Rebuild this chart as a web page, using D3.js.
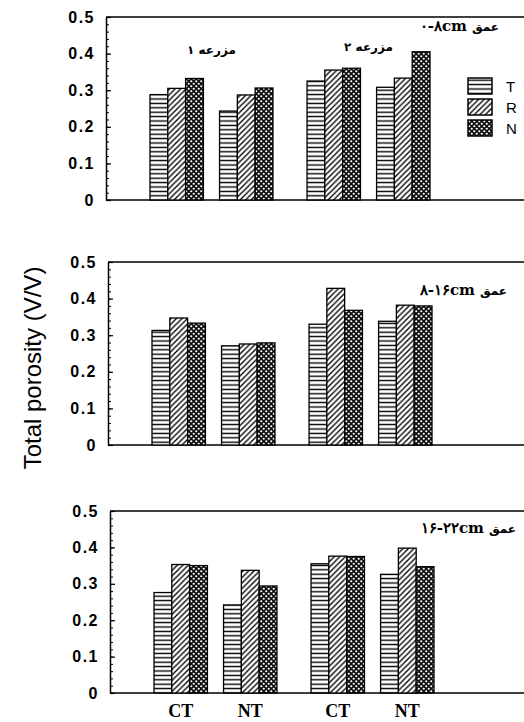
<!DOCTYPE html>
<html>
<head>
<meta charset="utf-8">
<script src="https://cdn.jsdelivr.net/npm/d3@7"></script>
<style>
  body { margin: 0; background: #fff; }
  svg { display: block; }
</style>
</head>
<body>
<div id="chart"></div>
<script>
// data
const treatments = ["T", "R", "N"];
const tillage = ["CT", "NT"];
const farms = ["مزرعه ۱", "مزرعه ۲"];
const depths = ["۰-۸cm", "۸-۱۶cm", "۱۶-۲۲cm"];
const depthWord = "عمق";
const yTicks = [0, 0.1, 0.2, 0.3, 0.4, 0.5];

// order: farm1 CT (T,R,N), farm1 NT, farm2 CT, farm2 NT
const depth1 = [0.288, 0.305, 0.332, 0.243, 0.287, 0.306, 0.325, 0.355, 0.360, 0.308, 0.333, 0.405];
const depth2 = [0.313, 0.347, 0.333, 0.271, 0.276, 0.279, 0.330, 0.428, 0.368, 0.338, 0.382, 0.380];
const depth3 = [0.276, 0.353, 0.350, 0.242, 0.337, 0.294, 0.355, 0.376, 0.375, 0.326, 0.398, 0.347];
const values = [depth1, depth2, depth3];

const width = 524, height = 722;

const svg = d3.select("#chart").append("svg")
    .attr("width", width)
    .attr("height", height);

// fill patterns
const defs = svg.append("defs");

let pT = defs.append("pattern").attr("id", "pat-T")
    .attr("patternUnits", "userSpaceOnUse")
    .attr("width", 8).attr("height", 4.4);
pT.append("rect").attr("width", 8).attr("height", 4.4).attr("fill", "#fff");
pT.append("line").attr("x1", 0).attr("x2", 8).attr("y1", 2.2).attr("y2", 2.2)
    .attr("stroke", "#000").attr("stroke-width", 1.4);

let pR = defs.append("pattern").attr("id", "pat-R")
    .attr("patternUnits", "userSpaceOnUse")
    .attr("width", 5.5).attr("height", 5.5);
pR.append("rect").attr("width", 5.5).attr("height", 5.5).attr("fill", "#fff");
pR.append("path")
    .attr("d", "M-1,6.5 L6.5,-1 M-2,2 L2,-2 M3.5,7.5 L7.5,3.5")
    .attr("stroke", "#000").attr("stroke-width", 1.3);

let pN = defs.append("pattern").attr("id", "pat-N")
    .attr("patternUnits", "userSpaceOnUse")
    .attr("width", 5).attr("height", 5);
pN.append("rect").attr("width", 5).attr("height", 5).attr("fill", "#111");
pN.append("circle").attr("cx", 1.25).attr("cy", 1.25).attr("r", 1.1).attr("fill", "#fff");
pN.append("circle").attr("cx", 3.75).attr("cy", 3.75).attr("r", 1.1).attr("fill", "#fff");

const fillOf = { T: "url(#pat-T)", R: "url(#pat-R)", N: "url(#pat-N)" };

// panel frames: left axis x, y of 0 and y of 0.5, right end of depth label
const panels = [
    { left: 106, y0: 200, y5: 17, label: [499, 31] },
    { left: 108, y0: 445, y5: 262, label: [507, 295] },
    { left: 110, y0: 693, y5: 511, label: [516, 533] }
];

panels.forEach((p, i) => {
    const g = svg.append("g");

    const y = d3.scaleLinear().domain([0, 0.5]).range([p.y0, p.y5]);

    const x0 = d3.scaleBand().domain(farms)
        .range([p.left + 44, p.left + 324]).paddingInner(0.217);
    const x1 = d3.scaleBand().domain(tillage)
        .range([0, x0.bandwidth()]).paddingInner(0.232);
    const x2 = d3.scaleBand().domain(treatments)
        .range([0, x1.bandwidth()]);

    // frame: top and bottom lines run off the right edge
    g.append("line").attr("x1", p.left).attr("x2", width + 5)
        .attr("y1", y(0.5)).attr("y2", y(0.5))
        .attr("stroke", "#000").attr("stroke-width", 1.5);
    g.append("line").attr("x1", p.left).attr("x2", width + 5)
        .attr("y1", y(0)).attr("y2", y(0))
        .attr("stroke", "#000").attr("stroke-width", 1.5);

    // bars
    const rows = [];
    farms.forEach((f, fi) => tillage.forEach((t, ti) => treatments.forEach((tr, ri) => {
        rows.push({ farm: f, till: t, treat: tr, v: values[i][fi * 6 + ti * 3 + ri] });
    })));

    g.selectAll("rect.bar").data(rows).join("rect")
        .attr("class", "bar")
        .attr("x", d => x0(d.farm) + x1(d.till) + x2(d.treat))
        .attr("y", d => y(d.v))
        .attr("width", x2.bandwidth())
        .attr("height", d => y(0) - y(d.v))
        .attr("fill", d => fillOf[d.treat])
        .attr("stroke", "#000")
        .attr("stroke-width", 1.3);

    // y axis, ticks pointing inward
    const axis = g.append("g").attr("transform", `translate(${p.left},0)`)
        .call(d3.axisLeft(y).tickValues(yTicks)
            .tickFormat(d => d === 0 ? "0" : d3.format(".1f")(d))
            .tickSizeInner(-5).tickSizeOuter(0).tickPadding(11));
    axis.select(".domain").attr("stroke-width", 1.5);
    axis.selectAll(".tick line").attr("stroke-width", 1.2);
    axis.selectAll("text")
        .attr("font-family", "Liberation Sans, Arial, sans-serif")
        .attr("font-weight", "bold")
        .attr("font-size", 16)
        .attr("letter-spacing", 1.5)
        .attr("fill", "#000");

    g.append("g").attr("transform", `translate(${p.left},0)`)
        .call(d3.axisLeft(y).tickValues(d3.range(0, 0.5, 0.02))
            .tickFormat("").tickSizeInner(-3).tickSizeOuter(0))
        .call(a => a.select(".domain").remove())
        .selectAll(".tick line").attr("stroke-width", 1);

    // depth label: word on the right, range to its left
    const word = g.append("text")
        .attr("x", p.label[0]).attr("y", p.label[1])
        .attr("text-anchor", "end")
        .attr("font-family", "DejaVu Sans, sans-serif")
        .attr("font-weight", "bold")
        .attr("font-size", 12)
        .text(depthWord);
    const ww = word.node().getComputedTextLength();
    g.append("text")
        .attr("x", p.label[0] - ww - 5).attr("y", p.label[1])
        .attr("text-anchor", "end")
        .attr("direction", "ltr")
        .attr("unicode-bidi", "bidi-override")
        .attr("font-family", "DejaVu Serif, serif")
        .attr("font-weight", "bold")
        .attr("font-size", 15)
        .text(depths[i]);

    if (i === 0) {
        // farm labels
        g.selectAll("text.farm").data(farms).join("text")
            .attr("class", "farm")
            .attr("x", d => x0(d) + x0.bandwidth() / 2)
            .attr("y", (d, k) => k === 0 ? 54 : 51)
            .attr("text-anchor", "middle")
            .attr("font-family", "DejaVu Sans, sans-serif")
            .attr("font-weight", "bold")
            .attr("font-size", 12)
            .text(d => d);

        // legend
        const leg = g.selectAll("g.leg").data(treatments).join("g")
            .attr("class", "leg")
            .attr("transform", (d, k) => `translate(468,${78 + k * 21})`);
        leg.append("rect")
            .attr("width", 24).attr("height", 16)
            .attr("fill", d => fillOf[d])
            .attr("stroke", "#000").attr("stroke-width", 1.5);
        leg.append("text")
            .attr("x", 38).attr("y", 14)
            .attr("font-family", "Liberation Sans, Arial, sans-serif")
            .attr("font-size", 15)
            .text(d => d);
    }

    if (i === 2) {
        const xl = [];
        farms.forEach(f => tillage.forEach(t => xl.push({ farm: f, till: t })));
        g.selectAll("text.xl").data(xl).join("text")
            .attr("class", "xl")
            .attr("x", d => x0(d.farm) + x1(d.till) + x1.bandwidth() / 2)
            .attr("y", 717)
            .attr("text-anchor", "middle")
            .attr("font-family", "Liberation Serif, Times New Roman, serif")
            .attr("font-weight", "bold")
            .attr("font-size", 18)
            .text(d => d.till);
    }
});

// shared y title
svg.append("text")
    .attr("transform", "translate(41,368) rotate(-90)")
    .attr("text-anchor", "middle")
    .attr("font-family", "Liberation Sans, Arial, sans-serif")
    .attr("font-size", 24)
    .text("Total porosity (V/V)");
</script>
</body>
</html>
